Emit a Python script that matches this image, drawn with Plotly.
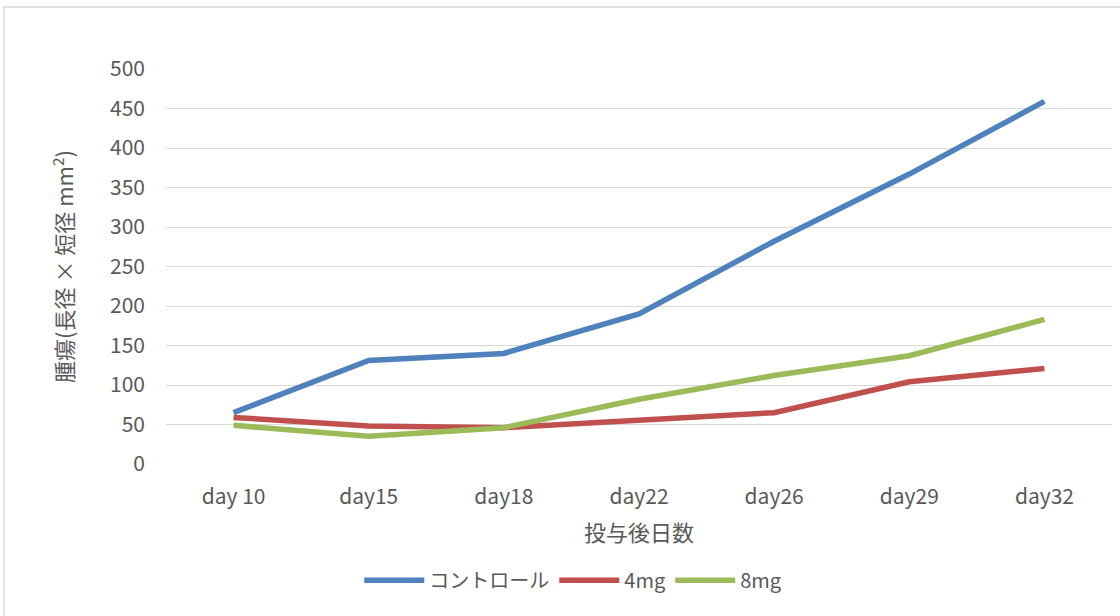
import plotly.graph_objects as go

categories = ["day 10", "day15", "day18", "day22", "day26", "day29", "day32"]
control = [65, 131, 140, 190, 282, 367, 459]
mg4 = [59, 48, 46, 55, 65, 104, 121]
mg8 = [49, 35, 46, 82, 112, 137, 183]
y_ticks = [0, 50, 100, 150, 200, 250, 300, 350, 400, 450, 500]

series = [("コントロール", control, "#4F81BD"), ("4mg", mg4, "#C0504D"), ("8mg", mg8, "#9BBB59")]

fig = go.Figure()
for name, vals, col in series:
    fig.add_trace(go.Scatter(x=categories, y=vals, name=name, mode="lines",
                             line=dict(color=col, width=5.5)))

font_family = "Noto Sans CJK JP, Noto Sans, sans-serif"
fig.update_layout(
    width=1120, height=616,
    margin=dict(l=166, r=8, t=69, b=152),
    paper_bgcolor="white", plot_bgcolor="white",
    font=dict(family=font_family, color="#595959", size=20),
    showlegend=True,
    legend=dict(orientation="h", x=0.43, xanchor="center", y=-0.294, yanchor="middle",
                font=dict(size=20, color="#595959"), itemwidth=60),
    xaxis=dict(type="category", range=[-0.5, 6.5], showgrid=False, showline=False, zeroline=False,
               ticks="", ticklabelstandoff=18, tickfont=dict(size=21),
               title=dict(text="投与後日数", font=dict(size=22, color="#595959"), standoff=16)),
    yaxis=dict(range=[0, 500], tickvals=y_ticks, showgrid=True, gridcolor="#D9D9D9", gridwidth=1.3,
               zeroline=False, showline=False, ticks="", ticklabelstandoff=20, tickfont=dict(size=21),
               title=dict(text="腫瘍(長径 × 短径 mm<sup>2</sup>)", font=dict(size=22, color="#595959"), standoff=30)),
    shapes=[dict(type="rect", xref="paper", yref="paper", x0=-0.1712, x1=1.2, y0=-0.6, y1=1.157,
                 line=dict(color="#D9D9D9", width=1.5), fillcolor="rgba(0,0,0,0)", layer="below")],
)
fig.write_html("out.html")
